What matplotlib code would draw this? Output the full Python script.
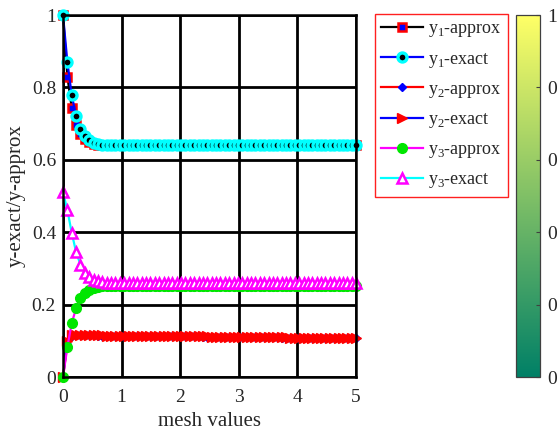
import numpy as np
import matplotlib
matplotlib.use("Agg")
import matplotlib.pyplot as plt
from matplotlib.cm import ScalarMappable
from matplotlib.colors import Normalize

plt.rcParams['font.family'] = ['Liberation Serif', 'DejaVu Serif']
plt.rcParams['mathtext.fontset'] = 'custom'
plt.rcParams['mathtext.rm'] = 'Liberation Serif'
plt.rcParams['text.color'] = '#262626'
plt.rcParams['xtick.labelcolor'] = '#262626'
plt.rcParams['ytick.labelcolor'] = '#262626'
plt.rcParams['axes.labelcolor'] = '#262626'

# mesh values (68 points from 0 to 5)
mesh = np.linspace(0, 5, 68)

y1_approx = [1.000, 0.830, 0.743, 0.696, 0.672, 0.657, 0.648, 0.644, 0.642, 0.641,
             0.640, 0.640, 0.640, 0.640, 0.640, 0.640, 0.640, 0.640, 0.640, 0.640,
             0.640, 0.640, 0.640, 0.640, 0.640, 0.640, 0.640, 0.640, 0.640, 0.640,
             0.640, 0.640, 0.640, 0.640, 0.640, 0.640, 0.640, 0.640, 0.640, 0.640,
             0.640, 0.640, 0.640, 0.640, 0.640, 0.640, 0.640, 0.640, 0.640, 0.640,
             0.640, 0.640, 0.640, 0.640, 0.640, 0.640, 0.640, 0.640, 0.640, 0.640,
             0.640, 0.640, 0.640, 0.640, 0.640, 0.640, 0.640, 0.640]
y1_exact = [1.000, 0.870, 0.778, 0.720, 0.685, 0.665, 0.654, 0.647, 0.644, 0.642,
            0.641, 0.640, 0.640, 0.640, 0.640, 0.640, 0.640, 0.640, 0.640, 0.640,
            0.640, 0.640, 0.640, 0.640, 0.640, 0.640, 0.640, 0.640, 0.640, 0.640,
            0.640, 0.640, 0.640, 0.640, 0.640, 0.640, 0.640, 0.640, 0.640, 0.640,
            0.640, 0.640, 0.640, 0.640, 0.640, 0.640, 0.640, 0.640, 0.640, 0.640,
            0.640, 0.640, 0.640, 0.640, 0.640, 0.640, 0.640, 0.640, 0.640, 0.640,
            0.640, 0.640, 0.640, 0.640, 0.640, 0.640, 0.640, 0.640]
y2_approx = [0.000, 0.092, 0.113, 0.115, 0.115, 0.115, 0.115, 0.115, 0.114, 0.114,
             0.114, 0.114, 0.114, 0.114, 0.114, 0.114, 0.113, 0.113, 0.113, 0.113,
             0.113, 0.113, 0.113, 0.113, 0.112, 0.112, 0.112, 0.112, 0.112, 0.112,
             0.112, 0.112, 0.111, 0.111, 0.111, 0.111, 0.111, 0.111, 0.111, 0.111,
             0.111, 0.110, 0.110, 0.110, 0.110, 0.110, 0.110, 0.110, 0.110, 0.110,
             0.109, 0.109, 0.109, 0.109, 0.109, 0.109, 0.109, 0.109, 0.108, 0.108,
             0.108, 0.108, 0.108, 0.108, 0.108, 0.108, 0.108, 0.108]
y2_exact = [0.000, 0.100, 0.117, 0.117, 0.116, 0.116, 0.116, 0.115, 0.115, 0.115,
            0.114, 0.114, 0.114, 0.114, 0.114, 0.114, 0.114, 0.114, 0.113, 0.113,
            0.113, 0.113, 0.113, 0.113, 0.113, 0.113, 0.112, 0.112, 0.112, 0.112,
            0.112, 0.112, 0.112, 0.112, 0.111, 0.111, 0.111, 0.111, 0.111, 0.111,
            0.111, 0.111, 0.111, 0.110, 0.110, 0.110, 0.110, 0.110, 0.110, 0.110,
            0.110, 0.110, 0.109, 0.109, 0.109, 0.109, 0.109, 0.109, 0.109, 0.109,
            0.108, 0.108, 0.108, 0.108, 0.108, 0.108, 0.108, 0.108]
y3_approx = [0.000, 0.083, 0.149, 0.190, 0.218, 0.232, 0.241, 0.246, 0.249, 0.251,
             0.252, 0.252, 0.252, 0.252, 0.252, 0.252, 0.252, 0.252, 0.252, 0.252,
             0.252, 0.252, 0.252, 0.252, 0.252, 0.252, 0.252, 0.252, 0.252, 0.252,
             0.252, 0.252, 0.252, 0.252, 0.252, 0.252, 0.252, 0.252, 0.252, 0.252,
             0.252, 0.252, 0.252, 0.252, 0.252, 0.252, 0.252, 0.252, 0.252, 0.252,
             0.252, 0.252, 0.252, 0.252, 0.252, 0.252, 0.252, 0.252, 0.252, 0.252,
             0.252, 0.252, 0.252, 0.252, 0.252, 0.252, 0.252, 0.252]
y3_exact = [0.510, 0.461, 0.398, 0.345, 0.310, 0.287, 0.275, 0.268, 0.264, 0.262,
            0.261, 0.260, 0.260, 0.260, 0.260, 0.260, 0.260, 0.260, 0.260, 0.260,
            0.260, 0.260, 0.260, 0.260, 0.260, 0.260, 0.260, 0.260, 0.260, 0.260,
            0.260, 0.260, 0.260, 0.260, 0.260, 0.260, 0.260, 0.260, 0.260, 0.260,
            0.260, 0.260, 0.260, 0.260, 0.260, 0.260, 0.260, 0.260, 0.260, 0.260,
            0.260, 0.260, 0.260, 0.260, 0.260, 0.260, 0.260, 0.260, 0.260, 0.260,
            0.260, 0.260, 0.260, 0.260, 0.260, 0.260, 0.260, 0.260]

labels = [r'y$_\mathregular{1}$-approx', r'y$_\mathregular{1}$-exact',
          r'y$_\mathregular{2}$-approx', r'y$_\mathregular{2}$-exact',
          r'y$_\mathregular{3}$-approx', r'y$_\mathregular{3}$-exact']
x_ticks = [0, 1, 2, 3, 4, 5]
y_ticks = [0, 0.2, 0.4, 0.6, 0.8, 1]
y_ticklabels = ['0', '0.2', '0.4', '0.6', '0.8', '1']
cbar_ticks = [0, 0.2, 0.4, 0.6, 0.8, 1]
cbar_ticklabels = ['0', '0.2', '0.4', '0.6', '0.8', '1']

CYAN = '#00ffff'
MAG = '#ff00ff'
GRN = '#00e600'

fig = plt.figure(figsize=(5.57, 4.37), dpi=100)
ax = fig.add_axes([63/557, 60/437, 293/557, 362/437])

lw = 1.6
kw = dict(clip_on=False)
ax.plot(mesh, y1_approx, color='k', lw=lw, marker='s', ms=5.5,
        mfc='b', mec='r', mew=1.8, label=labels[0], **kw)
ax.plot(mesh, y1_exact, color='b', lw=lw, marker='o', ms=6.5,
        mfc='k', mec=CYAN, mew=2.4, label=labels[1], **kw)
ax.plot(mesh, y2_approx, color='r', lw=lw, marker='D', ms=4,
        mfc='b', mec='b', label=labels[2], **kw)
ax.plot(mesh, y2_exact, color='b', lw=lw, marker='>', ms=7.5,
        mfc='r', mec='r', label=labels[3], **kw)
ax.plot(mesh, y3_approx, color=MAG, lw=lw, marker='o', ms=7,
        mfc=GRN, mec=GRN, label=labels[4], **kw)
ax.plot(mesh, y3_exact, color=CYAN, lw=lw, marker='^', ms=7,
        mfc='w', mec=MAG, mew=1.8, label=labels[5], **kw)

ax.set_xlim(0, 5)
ax.set_ylim(0, 1)
ax.set_xticks(x_ticks)
ax.set_yticks(y_ticks)
ax.set_yticklabels(y_ticklabels)
ax.grid(True, color='k', lw=2.0, alpha=1)
ax.set_axisbelow(True)
ax.tick_params(length=0, labelsize=14)
ax.tick_params(axis='x', pad=9)
ax.tick_params(axis='y', pad=5)
for s in ax.spines.values():
    s.set_linewidth(1.8)
ax.set_xlabel('mesh values', fontsize=15, labelpad=4)
ax.set_ylabel('y-exact/y-approx', fontsize=15, labelpad=4)

leg = fig.legend(loc='upper left', bbox_to_anchor=(375/557, 1 - 14/437),
                 fontsize=13, frameon=True, fancybox=False, edgecolor='#ff2020',
                 framealpha=1, borderaxespad=0, handlelength=2.3,
                 handletextpad=0.3, labelspacing=0.62, borderpad=0.35)
leg.get_frame().set_linewidth(1.0)

cax = fig.add_axes([516/557, 60/437, 24/557, 362/437])
sm = ScalarMappable(norm=Normalize(0, 1), cmap='summer')
cb = fig.colorbar(sm, cax=cax, ticks=cbar_ticks)
cb.ax.set_yticklabels(cbar_ticklabels)
cb.ax.tick_params(labelsize=14, direction='in', length=3, width=0.8,
                  color='#404040', pad=5)
cb.outline.set_linewidth(0.9)
cb.outline.set_edgecolor('#404040')

fig.savefig('out.png', dpi=100)
